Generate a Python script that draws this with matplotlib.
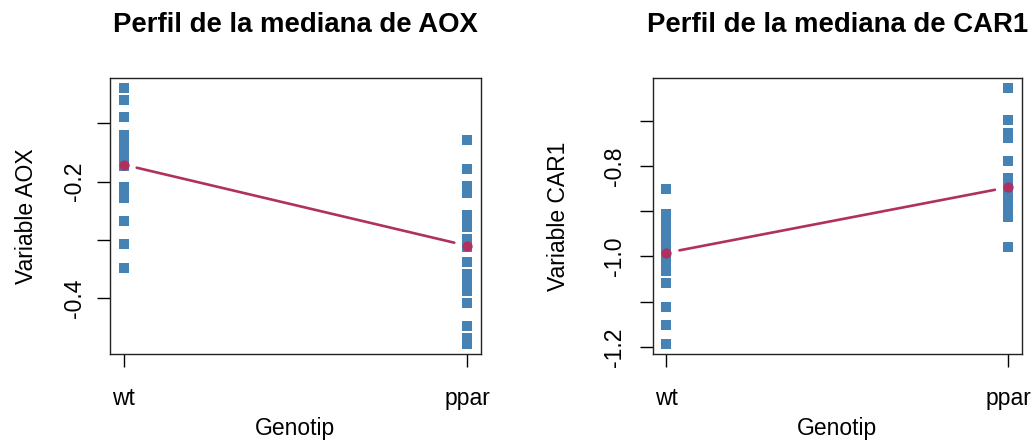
import numpy as np
import matplotlib.pyplot as plt

plt.rcParams['font.family'] = ['Liberation Sans', 'DejaVu Sans']
plt.rcParams['axes.unicode_minus'] = False

# data (20 mice per genotype)
genotypes = ['wt', 'ppar']
aox_wt = [-0.040, -0.060, -0.090, -0.120, -0.130, -0.140, -0.148, -0.155, -0.162, -0.168,
          -0.174, -0.210, -0.217, -0.229, -0.268, -0.268, -0.307, -0.307, -0.348, -0.348]
aox_ppar = [-0.129, -0.179, -0.208, -0.220, -0.258, -0.268, -0.278, -0.298, -0.305, -0.308,
            -0.312, -0.337, -0.358, -0.370, -0.380, -0.387, -0.408, -0.448, -0.468, -0.478]
car1_wt = [-0.850, -0.907, -0.915, -0.925, -0.935, -0.945, -0.955, -0.965, -0.975, -0.985,
           -0.999, -1.008, -1.018, -1.025, -1.031, -1.059, -1.112, -1.151, -1.193, -1.193]
car1_ppar = [-0.628, -0.699, -0.727, -0.737, -0.790, -0.827, -0.832, -0.837, -0.842, -0.845,
             -0.849, -0.855, -0.862, -0.870, -0.878, -0.886, -0.895, -0.904, -0.913, -0.980]

aox_ticks = [-0.4, -0.3, -0.2, -0.1]
aox_ticklabels = ['-0.4', '', '-0.2', '']
car1_ticks = [-1.2, -1.1, -1.0, -0.9, -0.8, -0.7]
car1_ticklabels = ['-1.2', '', '-1.0', '', '-0.8', '']

blue = '#4682B4'
maroon = '#B03060'
W, H = 1034, 441
fs = 16.5


def panel(rect, gene, wt, ppar, yticks, yticklabels, ylab_x, ypad):
    ax = fig.add_axes([rect[0] / W, 1 - rect[3] / H, (rect[2] - rect[0]) / W, (rect[3] - rect[1]) / H])
    x = np.arange(1, len(genotypes) + 1)
    ax.plot(np.full(len(wt), x[0]), wt, 's', color=blue, markersize=7.6, markeredgewidth=0)
    ax.plot(np.full(len(ppar), x[1]), ppar, 's', color=blue, markersize=7.6, markeredgewidth=0)
    meds = [np.median(wt), np.median(ppar)]
    ax.plot(x, meds, 'o', color=maroon, markersize=7.4, markeredgewidth=0, zorder=4)
    # type="b" style line with gaps around the points
    ax.annotate('', xy=(x[1], meds[1]), xytext=(x[0], meds[0]),
                arrowprops=dict(arrowstyle='-', color=maroon, lw=1.9, shrinkA=9.6, shrinkB=9.6))
    allv = np.array(wt + ppar)
    lo, hi = allv.min(), allv.max()
    r = hi - lo
    ax.set_ylim(lo - 0.04 * r, hi + 0.04 * r)
    ax.set_xlim(0.96, 2.04)
    ax.set_xticks(x)
    ax.set_xticklabels(genotypes, fontsize=fs)
    ax.set_yticks(yticks)
    ax.set_yticklabels(yticklabels, fontsize=fs, rotation=90, va='center')
    ax.tick_params(length=9.1, width=1, color='black', direction='out')
    ax.tick_params(axis='x', pad=15)
    ax.tick_params(axis='y', pad=ypad)
    for s in ax.spines.values():
        s.set_linewidth(1)
        s.set_color('#222222')
    ax.set_xlabel('Genotip', fontsize=fs)
    ax.xaxis.set_label_coords(0.5, -0.228)
    ax.set_ylabel('Variable ' + gene, fontsize=fs)
    ax.yaxis.set_label_coords(ylab_x, 0.5)
    ax.set_title('Perfil de la mediana de ' + gene, fontsize=fs * 1.2, fontweight='bold', pad=33)
    return ax


fig = plt.figure(figsize=(W / 100, H / 100), dpi=100)
panel((110, 78, 481, 354), 'AOX', aox_wt, aox_ppar, aox_ticks, aox_ticklabels, -0.194, 8.4)
panel((652.7, 78, 1021.7, 354), 'CAR1', car1_wt, car1_ppar, car1_ticks, car1_ticklabels, -0.224, 10.4)

fig.savefig('out.png', dpi=100)
